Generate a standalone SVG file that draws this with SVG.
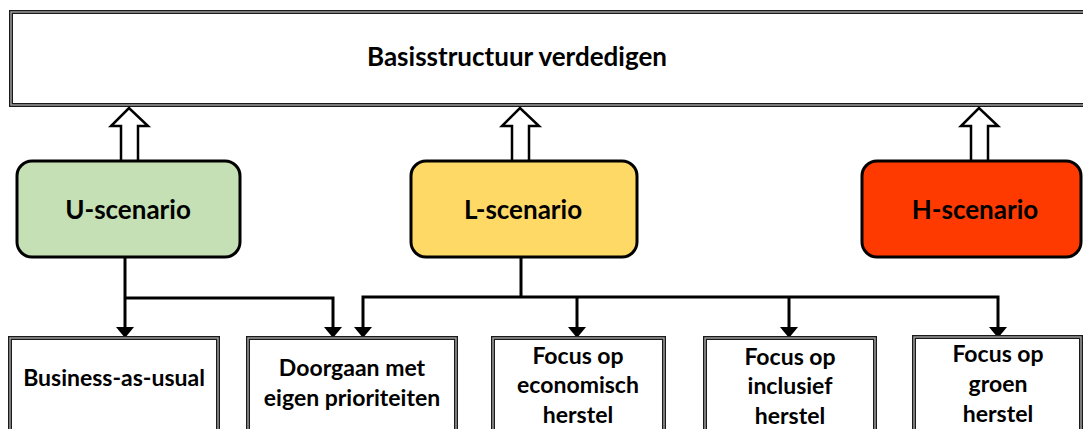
<svg xmlns="http://www.w3.org/2000/svg" width="1083" height="429" viewBox="0 0 1083 429">
<style>
.dbl{fill:#fff;stroke:#1a1a1a;stroke-width:4}
.dbl2{fill:none;stroke:#a6a6a6;stroke-width:1.4}
.sc{stroke:#000;stroke-width:3}
.t{font-family:Lato,"Open Sans",sans-serif;font-weight:bold;fill:#000;text-anchor:middle}
.b{font-size:23px}
.hol{fill:#fff;stroke:#000;stroke-width:2.5;stroke-linejoin:miter}
.ln{fill:none;stroke:#000;stroke-width:3}
</style>
<g id="top">
<rect class="dbl" x="11" y="12" width="1080" height="93"/>
<rect class="dbl2" x="11" y="12" width="1080" height="93"/>
<text class="t" x="517" y="66" font-size="26">Basisstructuur verdedigen</text>
</g>
<g id="hollow-arrows">
<path class="hol" d="M121,162 L121,126 L111,126 L129,108 L148,126 L138,126 L138,162 Z"/>
<path class="hol" d="M512,162 L512,126 L502,126 L520,108 L539,126 L529,126 L529,162 Z"/>
<path class="hol" d="M971,162 L971,126 L961,126 L979,108 L998,126 L988,126 L988,162 Z"/>
</g>
<g id="u-scenario">
<rect class="sc" x="17" y="161" width="223" height="96" rx="15" fill="#c5e0b4"/>
<text class="t" x="128" y="219" font-size="26">U-scenario</text>
</g>
<g id="l-scenario">
<rect class="sc" x="411" y="161" width="226" height="96" rx="15" fill="#ffd966"/>
<text class="t" x="523" y="219" font-size="26">L-scenario</text>
</g>
<g id="h-scenario">
<rect class="sc" x="862" y="161" width="219" height="96" rx="15" fill="#ff3a00"/>
<text class="t" x="975" y="219" font-size="26">H-scenario</text>
</g>
<g id="connectors">
<path class="ln" d="M125,258 L125,328"/>
<path d="M116,327 L134,327 L125,338 Z"/>
<path class="ln" d="M125,298 L333,298 L333,328"/>
<path d="M324,327 L342,327 L333,338 Z"/>
<path class="ln" d="M521,258 L521,297"/>
<path class="ln" d="M363,328 L363,297 L998,297 L998,328"/>
<path d="M354,327 L372,327 L363,338 Z"/>
<path d="M989,327 L1007,327 L998,338 Z"/>
<path class="ln" d="M577,297 L577,328"/>
<path d="M568,327 L586,327 L577,338 Z"/>
<path class="ln" d="M789,297 L789,328"/>
<path d="M780,327 L798,327 L789,338 Z"/>
</g>
<g id="business-as-usual">
<rect class="dbl" x="10" y="338" width="208" height="100"/>
<rect class="dbl2" x="10" y="338" width="208" height="100"/>
<text class="t b" x="114" y="386">Business-as-usual</text>
</g>
<g id="doorgaan">
<rect class="dbl" x="248" y="338" width="208" height="100"/>
<rect class="dbl2" x="248" y="338" width="208" height="100"/>
<text class="t b" x="352" y="376">Doorgaan met</text>
<text class="t b" x="352" y="406">eigen prioriteiten</text>
</g>
<g id="economisch">
<rect class="dbl" x="493" y="338" width="171" height="100"/>
<rect class="dbl2" x="493" y="338" width="171" height="100"/>
<text class="t b" x="578" y="364">Focus op</text>
<text class="t b" x="578" y="393">economisch</text>
<text class="t b" x="578" y="423">herstel</text>
</g>
<g id="inclusief">
<rect class="dbl" x="705" y="338" width="170" height="100"/>
<rect class="dbl2" x="705" y="338" width="170" height="100"/>
<text class="t b" x="790" y="365">Focus op</text>
<text class="t b" x="790" y="394">inclusief</text>
<text class="t b" x="790" y="424">herstel</text>
</g>
<g id="groen">
<rect class="dbl" x="914" y="337" width="167" height="100"/>
<rect class="dbl2" x="914" y="337" width="167" height="100"/>
<text class="t b" x="998" y="362">Focus op</text>
<text class="t b" x="998" y="392">groen</text>
<text class="t b" x="998" y="422">herstel</text>
</g>
</svg>
